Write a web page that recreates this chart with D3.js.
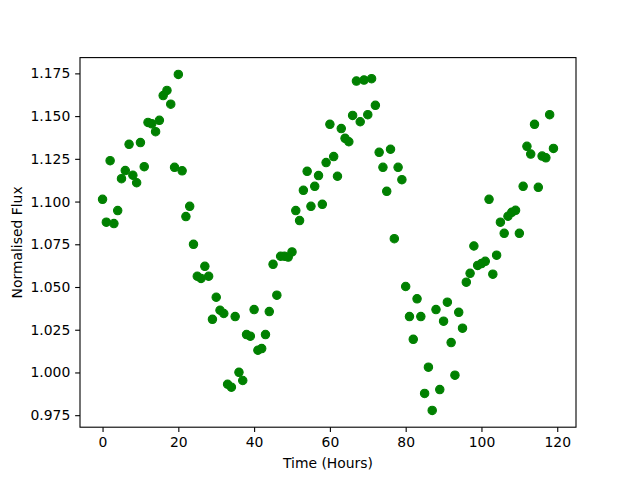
<!DOCTYPE html>
<html>
<head>
<meta charset="utf-8">
<script src="https://cdn.jsdelivr.net/npm/d3@7"></script>
<style>
  body { margin: 0; background: #fff; }
  svg { display: block; }
  text { font-family: "DejaVu Sans", sans-serif; }
</style>
</head>
<body>
<svg id="chart" width="640" height="480"></svg>
<script>
// hours since start of observation
const hours = d3.range(0, 120);

// normalised flux, one reading per hour
const flux = [
  1.1013, 1.0879, 1.1239, 1.0871, 1.0947, 1.1134, 1.1181, 1.1335, 1.1154, 1.1110,
  1.1345, 1.1204, 1.1463, 1.1455, 1.1409, 1.1475, 1.1620, 1.1650, 1.1570, 1.1200,
  1.1744, 1.1180, 1.0912, 1.0972, 1.0750, 1.0563, 1.0550, 1.0621, 1.0563, 1.0311,
  1.0440, 1.0364, 1.0345, 0.9931, 0.9914, 1.0327, 1.0001, 0.9953, 1.0222, 1.0212,
  1.0368, 1.0130, 1.0140, 1.0222, 1.0356, 1.0633, 1.0452, 1.0680, 1.0680, 1.0675,
  1.0705, 1.0947, 1.0889, 1.1066, 1.1177, 1.0972, 1.1089, 1.1152, 1.0984, 1.1228,
  1.1452, 1.1263, 1.1148, 1.1427, 1.1370, 1.1350, 1.1504, 1.1705, 1.1467, 1.1711,
  1.1508, 1.1719, 1.1563, 1.1288, 1.1200, 1.1060, 1.1306, 1.0783, 1.1200, 1.1128,
  1.0503, 1.0327, 1.0194, 1.0431, 1.0327, 0.9877, 1.0031, 0.9778, 1.0368, 0.9900,
  1.0300, 1.0411, 1.0175, 0.9984, 1.0352, 1.0259, 1.0528, 1.0580, 1.0740, 1.0626,
  1.0637, 1.0650, 1.1013, 1.0575, 1.0686, 1.0879, 1.0814, 1.0914, 1.0937, 1.0949,
  1.0814, 1.1089, 1.1323, 1.1278, 1.1452, 1.1083, 1.1266, 1.1256, 1.1508, 1.1311
];

const xTicks = [0, 20, 40, 60, 80, 100, 120];
const yTicks = [0.975, 1.000, 1.025, 1.050, 1.075, 1.100, 1.125, 1.150, 1.175];

const margin = {top: 57.6, right: 64, bottom: 52.8, left: 80};
const width = 640 - margin.left - margin.right;
const height = 480 - margin.top - margin.bottom;

const svg = d3.select("#chart");
const g = svg.append("g").attr("transform", `translate(${margin.left},${margin.top})`);

// matplotlib-style 5% padding on the data range
function padded(ext) {
  const p = (ext[1] - ext[0]) * 0.05;
  return [ext[0] - p, ext[1] + p];
}

const x = d3.scaleLinear().domain(padded(d3.extent(hours))).range([0, width]);
const y = d3.scaleLinear().domain(padded(d3.extent(flux))).range([height, 0]);

const tick = 4.86;
const fontPx = 13.9;

const xAxis = g.append("g")
  .attr("transform", `translate(0,${height})`)
  .call(d3.axisBottom(x).tickValues(xTicks).tickFormat(d3.format("d"))
    .tickSizeInner(tick).tickSizeOuter(0).tickPadding(tick));

const yAxis = g.append("g")
  .call(d3.axisLeft(y).tickValues(yTicks).tickFormat(d3.format(".3f"))
    .tickSizeInner(tick).tickSizeOuter(0).tickPadding(tick));

[xAxis, yAxis].forEach(a => {
  a.select(".domain").remove();
  a.selectAll("line").attr("stroke", "#000").attr("stroke-width", 1.1);
  a.selectAll("text")
    .style("font-family", "DejaVu Sans")
    .style("font-size", fontPx + "px")
    .attr("fill", "#000");
});

g.selectAll("circle.pt")
  .data(hours)
  .join("circle")
  .attr("class", "pt")
  .attr("cx", (d, i) => x(hours[i]))
  .attr("cy", (d, i) => y(flux[i]))
  .attr("r", 4.2)
  .attr("fill", "#008000")
  .attr("stroke", "#008000")
  .attr("stroke-width", 1.1);

// frame
g.append("rect")
  .attr("width", width)
  .attr("height", height)
  .attr("fill", "none")
  .attr("stroke", "#000")
  .attr("stroke-width", 1.1);

svg.append("text")
  .attr("x", margin.left + width / 2)
  .attr("y", 468)
  .attr("text-anchor", "middle")
  .style("font-size", fontPx + "px")
  .text("Time (Hours)");

svg.append("text")
  .attr("transform", `translate(22,${margin.top + height / 2}) rotate(-90)`)
  .attr("text-anchor", "middle")
  .style("font-size", fontPx + "px")
  .text("Normalised Flux");
</script>
</body>
</html>
